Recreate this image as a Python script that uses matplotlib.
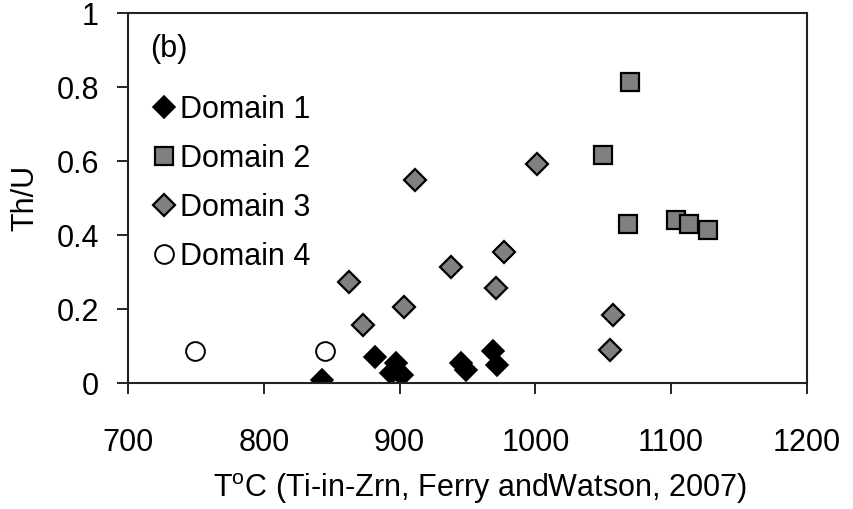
import numpy as np
import matplotlib.pyplot as plt
from matplotlib.ticker import FixedLocator, FuncFormatter

plt.rcParams['font.family'] = ['Liberation Sans', 'DejaVu Sans']

# Ti-in-zircon temperature (deg C) and Th/U per domain
d1_t = [843, 882, 897, 894, 902, 945, 949, 969, 972]
d1_thu = [0.01, 0.072, 0.055, 0.028, 0.022, 0.054, 0.036, 0.087, 0.05]

d2_t = [1070, 1050, 1068, 1104, 1113, 1127]
d2_thu = [0.816, 0.617, 0.431, 0.442, 0.431, 0.415]

d3_t = [911, 938, 863, 971, 903, 873, 977, 1001, 1057, 1055]
d3_thu = [0.549, 0.315, 0.274, 0.257, 0.207, 0.158, 0.356, 0.593, 0.185, 0.091]

d4_t = [749, 845]
d4_thu = [0.088, 0.088]

xticks = [700, 800, 900, 1000, 1100, 1200]
yticks = [0, 0.2, 0.4, 0.6, 0.8, 1]

fs = 22
gray = '#808080'

fig = plt.figure(figsize=(8.54, 5.09), dpi=100)
ax = fig.add_axes([0.1502, 0.247, 0.7944, 0.7265])

ax.plot(d1_t, d1_thu, 'D', ms=10.7, mfc='black', mec='black', mew=1.2, label='Domain 1')
ax.plot(d2_t, d2_thu, 's', ms=13.5, mfc=gray, mec='black', mew=1.6, label='Domain 2')
ax.plot(d3_t, d3_thu, 'D', ms=10.7, mfc=gray, mec='black', mew=1.6, label='Domain 3')
ax.plot(d4_t, d4_thu, 'o', ms=13.5, mfc='white', mec='black', mew=1.4, label='Domain 4')

ax.set_xlim(700, 1200)
ax.set_ylim(0, 1)
ax.xaxis.set_major_locator(FixedLocator(xticks))
ax.yaxis.set_major_locator(FixedLocator(yticks))
ax.yaxis.set_major_formatter(FuncFormatter(lambda v, p: ('%g' % v)))
ax.tick_params(axis='both', direction='out', length=8, width=1.2, labelsize=fs, colors='black')
ax.tick_params(axis='x', pad=24)
ax.tick_params(axis='y', pad=13)
for s in ax.spines.values():
    s.set_linewidth(1.5)
    s.set_color('#222222')

ax.set_xlabel('T$^{\\mathregular{o}}$C (Ti-in-Zrn, Ferry andWatson, 2007)', fontsize=fs)
ax.xaxis.set_label_coords(0.518, -0.238)
ax.set_ylabel('Th/U', fontsize=fs)
ax.yaxis.set_label_coords(-0.13, 0.5)

ax.text(0.032, 0.905, '(b)', transform=ax.transAxes, fontsize=fs, va='center', ha='left')

ax.legend(loc='upper left', bbox_to_anchor=(0.008, 0.83), frameon=False, fontsize=fs,
          handlelength=0.8, handletextpad=0.12, labelspacing=0.62, borderaxespad=0.2,
          numpoints=1)

fig.savefig('out.png', dpi=100)
